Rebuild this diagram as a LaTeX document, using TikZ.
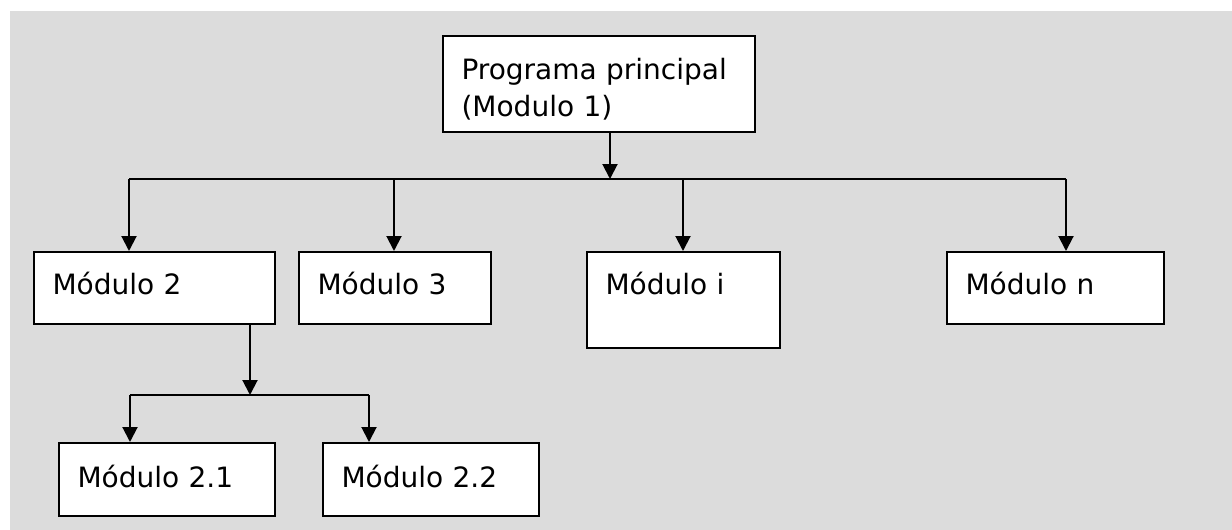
\documentclass[tikz,border=0pt]{standalone}
\usepackage{fontspec}
\setmainfont{DejaVu Sans}
\usepackage{tikz}
\usetikzlibrary{arrows.meta}
\definecolor{bggray}{RGB}{220,220,220}

\begin{document}
\begin{tikzpicture}[x=1pt,y=-1pt,>={Triangle[length=15pt,width=15pt]},line width=2pt,
  modbox/.style={draw,fill=white,anchor=north west,inner xsep=18.5pt,inner ysep=0pt,align=left,
    font=\fontsize{28}{37}\selectfont,text height=42pt,text depth=30pt}]
  \useasboundingbox (0,0) rectangle (1232,530);
  \fill[bggray] (10,11) rectangle (1232,530);
  % boxes
  \node[modbox,text width=275pt,text height=43pt,text depth=53pt] (top) at (442,35) {Programa principal\\(Modulo 1)};
  \node[modbox,text width=204pt] (m2) at (33,251) {Módulo 2};
  \node[modbox,text width=155pt] (m3) at (298,251) {Módulo 3};
  \node[modbox,text width=156pt,text depth=54pt] (mi) at (586,251) {Módulo i};
  \node[modbox,text width=180pt] (mn) at (946,251) {Módulo n};
  \node[modbox,text width=179pt,text height=44pt,text depth=29pt] (m21) at (58,442) {Módulo 2.1};
  \node[modbox,text width=179pt,text height=44pt,text depth=29pt] (m22) at (322,442) {Módulo 2.2};
  % first level
  \coordinate (bus) at (610,179);
  \coordinate (d2) at (129,179); \coordinate (d3) at (394,179);
  \coordinate (di) at (683,179); \coordinate (dn) at (1066,179);
  \draw[->] (top.south -| bus) -- (bus);
  \draw (d2) -- (dn);
  \foreach \d/\m in {d2/m2,d3/m3,di/mi,dn/mn} \draw[->] (\d) -- (\d |- \m.north);
  % second level
  \coordinate (sub) at (250,395);
  \coordinate (d21) at (130,395); \coordinate (d22) at (369,395);
  \draw[->] (m2.south -| sub) -- (sub);
  \draw (d21) -- (d22);
  \foreach \d/\m in {d21/m21,d22/m22} \draw[->] (\d) -- (\d |- \m.north);
\end{tikzpicture}
\end{document}
